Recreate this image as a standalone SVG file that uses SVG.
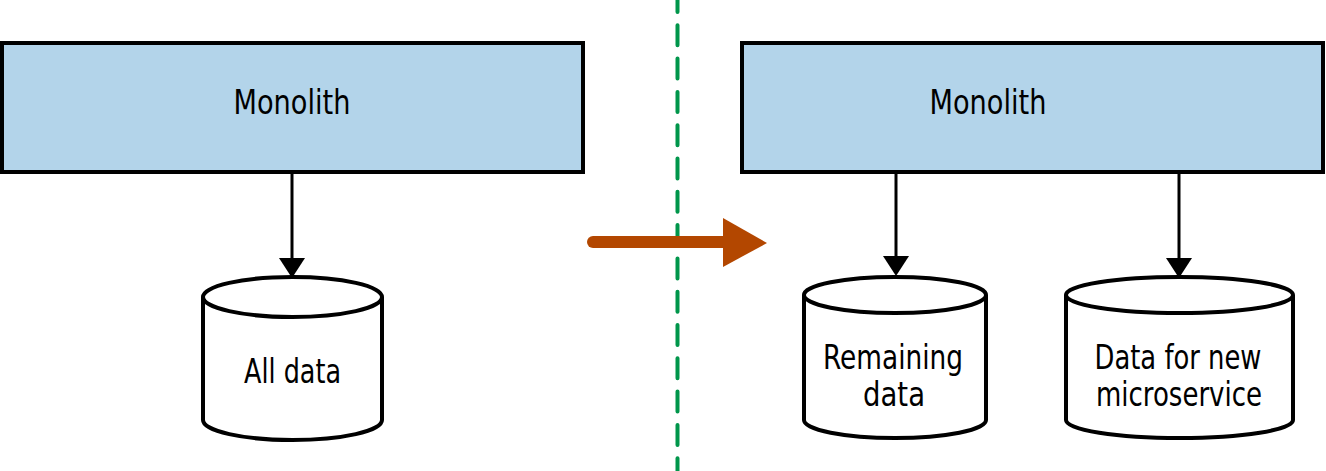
<svg xmlns="http://www.w3.org/2000/svg" width="1326" height="471" viewBox="0 0 1326 471">
  <style>
    .box { fill: #b3d4ea; stroke: #000; stroke-width: 4; }
    .db { fill: #fff; stroke: #000; stroke-width: 4; }
    .lbl { font-family: "DejaVu Sans Condensed", "Liberation Sans Narrow", "Liberation Sans", sans-serif; font-size: 34px; fill: #000; text-anchor: middle; }
    .edge { stroke: #000; stroke-width: 3; fill: none; }
  </style>
  <defs>
    <marker id="ah" markerUnits="userSpaceOnUse" viewBox="0 0 20 26" refX="0" refY="13" markerWidth="20" markerHeight="26" orient="auto">
      <path d="M0,0 L20,13 L0,26 z" fill="#000"/>
    </marker>
  </defs>

  <line x1="677.5" y1="0" x2="677.5" y2="471" stroke="#00964b" stroke-width="4" stroke-dasharray="20 13.3" stroke-dashoffset="8" stroke-linecap="round"/>

  <g id="monolith-left">
    <rect class="box" x="2" y="43" width="581" height="129"/>
    <text class="lbl" x="292" y="114" textLength="117" lengthAdjust="spacingAndGlyphs">Monolith</text>
  </g>
  <g id="monolith-right">
    <rect class="box" x="742" y="43" width="581" height="129"/>
    <text class="lbl" x="988" y="114" textLength="117" lengthAdjust="spacingAndGlyphs">Monolith</text>
  </g>

  <g id="db-all">
    <path class="db" d="M203,297 A89.5,20 0 0 1 382,297 L382,420 A89.5,20 0 0 1 203,420 Z"/>
    <path class="db" d="M203,297 A89.5,20 0 0 0 382,297"/>
    <text class="lbl" x="292.5" y="383" textLength="97" lengthAdjust="spacingAndGlyphs">All data</text>
  </g>
  <g id="db-remaining">
    <path class="db" d="M804,295 A91,18 0 0 1 986,295 L986,420 A91,18 0 0 1 804,420 Z"/>
    <path class="db" d="M804,295 A91,18 0 0 0 986,295"/>
    <text class="lbl" x="893" y="369" textLength="140" lengthAdjust="spacingAndGlyphs">Remaining</text>
    <text class="lbl" x="894" y="406" textLength="62" lengthAdjust="spacingAndGlyphs">data</text>
  </g>
  <g id="db-new">
    <path class="db" d="M1066,295 A113.5,18 0 0 1 1293,295 L1293,420 A113.5,18 0 0 1 1066,420 Z"/>
    <path class="db" d="M1066,295 A113.5,18 0 0 0 1293,295"/>
    <text class="lbl" x="1178" y="369" textLength="167" lengthAdjust="spacingAndGlyphs">Data for new</text>
    <text class="lbl" x="1179" y="406" textLength="166" lengthAdjust="spacingAndGlyphs">microservice</text>
  </g>

  <g id="connectors">
    <line class="edge" x1="292" y1="172" x2="292" y2="258" marker-end="url(#ah)"/>
    <line class="edge" x1="896" y1="174" x2="896" y2="256" marker-end="url(#ah)"/>
    <line class="edge" x1="1179" y1="174" x2="1179" y2="258" marker-end="url(#ah)"/>
    <line x1="593" y1="242" x2="726" y2="242" stroke="#b34700" stroke-width="12" stroke-linecap="round"/>
    <path d="M723,218 L767,243 L723,267 Z" fill="#b34700"/>
  </g>
</svg>
